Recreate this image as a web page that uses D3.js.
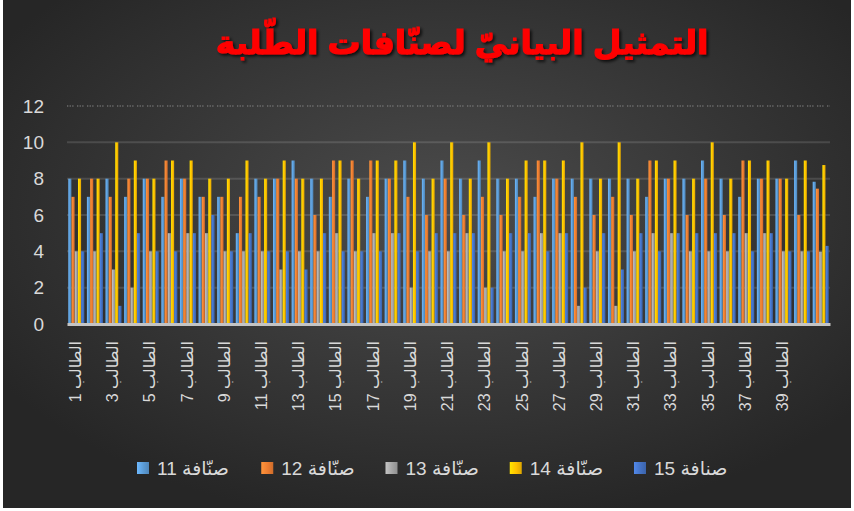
<!DOCTYPE html>
<html>
<head>
<meta charset="utf-8">
<script src="https://cdn.jsdelivr.net/npm/d3@7"></script>
<style>
  body { margin: 0; background: #ffffff; }
  svg { display: block; }
</style>
</head>
<body>
<svg id="chart" width="854" height="511"></svg>
<script>
// student labels (41st column is the class average, it has no label)
var categories = [
    'الطالب 1', 'الطالب 2', 'الطالب 3', 'الطالب 4', 'الطالب 5',
    'الطالب 6', 'الطالب 7', 'الطالب 8', 'الطالب 9', 'الطالب 10',
    'الطالب 11', 'الطالب 12', 'الطالب 13', 'الطالب 14', 'الطالب 15',
    'الطالب 16', 'الطالب 17', 'الطالب 18', 'الطالب 19', 'الطالب 20',
    'الطالب 21', 'الطالب 22', 'الطالب 23', 'الطالب 24', 'الطالب 25',
    'الطالب 26', 'الطالب 27', 'الطالب 28', 'الطالب 29', 'الطالب 30',
    'الطالب 31', 'الطالب 32', 'الطالب 33', 'الطالب 34', 'الطالب 35',
    'الطالب 36', 'الطالب 37', 'الطالب 38', 'الطالب 39', 'الطالب 40',
    ''
];

var series_names = ['صنّافة 11', 'صنّافة 12', 'صنّافة 13', 'صنّافة 14', 'صنافة 15'];

var grade_11 = [8, 7, 8, 7, 8, 7, 8, 7, 7, 5, 8, 8, 9, 8, 7, 8, 7, 8, 9, 8,
                9, 8, 9, 8, 8, 7, 8, 8, 8, 8, 8, 7, 8, 8, 9, 8, 7, 8, 8, 9, 7.83];
var grade_12 = [7, 8, 7, 8, 8, 9, 8, 7, 7, 7, 7, 8, 8, 6, 9, 9, 9, 8, 7, 6,
                8, 6, 7, 6, 7, 9, 8, 7, 6, 7, 6, 9, 8, 6, 8, 6, 9, 8, 8, 6, 7.45];
var grade_13 = [4, 4, 3, 2, 4, 5, 5, 5, 4, 4, 4, 3, 4, 4, 5, 4, 5, 5, 2, 4,
                4, 5, 2, 4, 4, 5, 5, 1, 4, 1, 4, 5, 5, 4, 4, 4, 5, 5, 4, 4, 3.98];
var grade_14 = [8, 8, 10, 9, 8, 9, 9, 8, 8, 9, 8, 9, 8, 8, 9, 8, 9, 9, 10, 8,
                10, 8, 10, 8, 9, 9, 9, 10, 8, 10, 8, 9, 9, 8, 10, 8, 9, 9, 8, 9, 8.75];
var grade_15 = [4, 5, 1, 5, 4, 4, 5, 6, 4, 5, 4, 4, 3, 5, 4, 4, 4, 5, 4, 5,
                5, 5, 2, 5, 5, 4, 5, 2, 5, 3, 5, 4, 5, 5, 5, 5, 4, 5, 4, 4, 4.3];

var y_ticks = [0, 2, 4, 6, 8, 10, 12];

var chart_title = 'التمثيل البيانيّ لصنّافات الطّلبة';

var series_values = [grade_11, grade_12, grade_13, grade_14, grade_15];
var series_colors = ['#5b9bd5', '#ed7d31', '#a5a5a5', '#ffc000', '#4472c4'];

var font_stack = '"Liberation Sans", "DejaVu Sans", sans-serif';

draw_chart();

function draw_chart(){
    var padding = {top: 106, left: 67, right: 24, bottom: 187};
    var svg = d3.select('#chart');
    var width = +svg.attr('width');
    var height = +svg.attr('height');

    var defs = svg.append('defs');
    make_defs(defs);

    // dark frame with soft light in the middle
    svg.append('rect')
        .attr('x', 3).attr('y', 0)
        .attr('width', width - 6).attr('height', height - 3)
        .attr('fill', 'url(#bg-grad)');

    var x0 = d3.scaleBand()
        .domain(d3.range(categories.length))
        .range([padding.left, width - padding.right])
        .padding(0);

    var x1 = d3.scaleBand()
        .domain(d3.range(series_names.length))
        .range([0, x0.bandwidth()])
        .paddingInner(0.04)
        .paddingOuter(0.4);

    var y_scale = d3.scaleLinear()
        .domain([0, 12])
        .range([height - padding.bottom, padding.top]);

    draw_grid(svg, x0, y_scale);
    draw_bars(svg, x0, x1, y_scale);
    draw_y_axis(svg, y_scale, padding);
    draw_x_axis(svg, x0, y_scale);
    draw_legend(svg);
    draw_title(svg);
}

function make_defs(defs){
    var bg = defs.append('radialGradient')
        .attr('id', 'bg-grad')
        .attr('cx', '52%').attr('cy', '42%').attr('r', '62%');
    bg.append('stop').attr('offset', '0%').attr('stop-color', '#4c4c4c');
    bg.append('stop').attr('offset', '100%').attr('stop-color', '#262626');

    series_colors.forEach(function(c, i){
        var g = defs.append('linearGradient')
            .attr('id', 'bar-grad-' + i)
            .attr('x1', '0%').attr('x2', '100%').attr('y1', '0%').attr('y2', '0%');
        g.append('stop').attr('offset', '0%').attr('stop-color', d3.color(c).brighter(0.5));
        g.append('stop').attr('offset', '55%').attr('stop-color', c);
        g.append('stop').attr('offset', '100%').attr('stop-color', d3.color(c).darker(0.4));
    });

    var shadow = defs.append('filter').attr('id', 'title-shadow')
        .attr('x', '-10%').attr('y', '-30%').attr('width', '120%').attr('height', '160%');
    shadow.append('feDropShadow')
        .attr('dx', 2).attr('dy', 2).attr('stdDeviation', 1.5)
        .attr('flood-color', '#000').attr('flood-opacity', 0.75);
}

function draw_grid(svg, x0, y_scale){
    var x_range = x0.range();
    var grid = svg.append('g').attr('class', 'grid');

    grid.selectAll('line.solid')
        .data(y_ticks.filter(function(d){ return d > 0 && d < 12; }))
        .enter().append('line')
        .attr('class', 'solid')
        .attr('x1', x_range[0]).attr('x2', x_range[1])
        .attr('y1', function(d){ return y_scale(d); })
        .attr('y2', function(d){ return y_scale(d); })
        .attr('stroke', 'rgba(255,255,255,0.13)')
        .attr('stroke-width', 2);

    grid.append('line')
        .attr('x1', x_range[0]).attr('x2', x_range[1])
        .attr('y1', y_scale(12)).attr('y2', y_scale(12))
        .attr('stroke', '#8a8a8a')
        .attr('stroke-width', 1.2)
        .attr('stroke-dasharray', '1.3,1.3,1.3,1.3,1.3,3.5');
}

function draw_bars(svg, x0, x1, y_scale){
    var groups = svg.append('g').attr('class', 'bars')
        .selectAll('g')
        .data(categories)
        .enter().append('g')
        .attr('transform', function(d, i){ return 'translate(' + x0(i) + ',0)'; });

    groups.selectAll('rect')
        .data(function(d, i){
            return series_values.map(function(vals, s){ return {s: s, v: vals[i]}; });
        })
        .enter().append('rect')
        .attr('x', function(d){ return x1(d.s); })
        .attr('width', x1.bandwidth())
        .attr('y', function(d){ return y_scale(d.v); })
        .attr('height', function(d){ return y_scale(0) - y_scale(d.v); })
        .attr('fill', function(d){ return 'url(#bar-grad-' + d.s + ')'; });
}

function draw_y_axis(svg, y_scale, padding){
    var y_axis = svg.append('g')
        .attr('transform', 'translate(' + (padding.left - 23) + ',0)')
        .call(d3.axisLeft(y_scale).tickValues(y_ticks).tickSize(0).tickPadding(0));

    y_axis.select('.domain').remove();
    y_axis.selectAll('text')
        .attr('fill', '#d9d9d9')
        .style('font-family', font_stack)
        .style('font-size', '19px');
}

function draw_x_axis(svg, x0, y_scale){
    var x_axis = svg.append('g')
        .attr('transform', 'translate(0,' + y_scale(0) + ')')
        .call(d3.axisBottom(x0).tickSize(0)
            .tickFormat(function(d){ return d % 2 == 0 ? categories[d] : ''; }));

    x_axis.select('.domain')
        .attr('stroke', '#c4c4c4')
        .attr('stroke-width', 3);

    x_axis.selectAll('text')
        .attr('transform', 'rotate(-90)')
        .attr('direction', 'rtl')
        .attr('x', -17)
        .attr('y', -1)
        .attr('dy', '0.35em')
        .attr('fill', '#d9d9d9')
        .style('text-anchor', 'start')
        .style('font-family', font_stack)
        .style('font-size', '16px');
}

function draw_legend(svg){
    var legend = svg.append('g').attr('class', 'legend');
    var item_x = d3.scaleLinear().domain([0, 4]).range([137, 634]);

    var items = legend.selectAll('g')
        .data(series_names)
        .enter().append('g')
        .attr('transform', function(d, i){ return 'translate(' + item_x(i) + ',462)'; });

    items.append('rect')
        .attr('width', 12).attr('height', 12)
        .attr('fill', function(d, i){ return 'url(#bar-grad-' + i + ')'; });

    items.append('text')
        .attr('x', 20).attr('y', 6)
        .attr('dy', '0.35em')
        .attr('direction', 'rtl')
        .attr('fill', '#d9d9d9')
        .style('text-anchor', 'end')
        .style('font-family', font_stack)
        .style('font-size', '19px')
        .text(function(d){ return d; });
}

function draw_title(svg){
    svg.append('text')
        .attr('x', 462)
        .attr('y', 54)
        .attr('direction', 'rtl')
        .attr('fill', '#ff0000')
        .attr('stroke', '#ff0000')
        .attr('stroke-width', 1.2)
        .attr('filter', 'url(#title-shadow)')
        .style('text-anchor', 'middle')
        .style('font-family', font_stack)
        .style('font-weight', 'bold')
        .style('font-size', '33px')
        .text(chart_title);
}
</script>
</body>
</html>
